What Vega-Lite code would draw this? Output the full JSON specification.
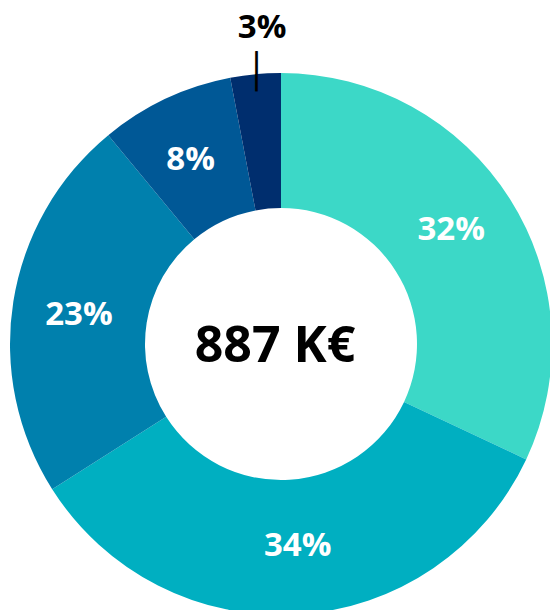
{
  "$schema": "https://vega.github.io/schema/vega-lite/v6.json",
  "autosize": {"type": "none"},
  "width": 538,
  "height": 532,
  "padding": {"left": 12, "top": 78, "right": 0, "bottom": 0},
  "background": "white",
  "config": {"view": {"stroke": null}},
  "datasets": {
    "slices": [
      {"idx": 1, "category": "Segment 1", "value": 32, "label": "32%"},
      {"idx": 2, "category": "Segment 2", "value": 34, "label": "34%"},
      {"idx": 3, "category": "Segment 3", "value": 23, "label": "23%"},
      {"idx": 4, "category": "Segment 4", "value": 8, "label": "8%"},
      {"idx": 5, "category": "Segment 5", "value": 3, "label": "3%"}
    ],
    "total": [{"label": "887 K€"}]
  },
  "resolve": {"scale": {"theta": "independent"}},
  "layer": [
    {
      "data": {"name": "slices"},
      "mark": {"type": "arc", "innerRadius": 136, "outerRadius": 271},
      "encoding": {
        "theta": {"field": "value", "type": "quantitative", "stack": true},
        "order": {"field": "idx", "type": "quantitative"},
        "color": {
          "field": "category",
          "type": "nominal",
          "legend": null,
          "scale": {
            "domain": ["Segment 1", "Segment 2", "Segment 3", "Segment 4", "Segment 5"],
            "range": ["#3CD8C7", "#00AFC1", "#0080AD", "#005896", "#002E6E"]
          }
        }
      }
    },
    {
      "data": {"name": "slices"},
      "mark": {"type": "text", "radius": 204, "font": "Open Sans", "fontWeight": "bold", "fontSize": 33, "fill": "white", "align": "center", "baseline": "middle", "dy": -1},
      "encoding": {
        "theta": {"field": "value", "type": "quantitative", "stack": true, "scale": {"range": [-0.019, 6.264]}},
        "order": {"field": "idx", "type": "quantitative"},
        "detail": {"field": "category"},
        "text": {"condition": {"test": "datum.value >= 5", "field": "label"}, "value": ""}
      }
    },
    {
      "data": {"name": "slices"},
      "mark": {"type": "text", "radius": 317, "dx": 11, "font": "Open Sans", "fontWeight": "bold", "fontSize": 33, "fill": "black", "align": "center", "baseline": "middle"},
      "encoding": {
        "theta": {"field": "value", "type": "quantitative", "stack": true},
        "order": {"field": "idx", "type": "quantitative"},
        "detail": {"field": "category"},
        "text": {"condition": {"test": "datum.value < 5", "field": "label"}, "value": ""}
      }
    },
    {
      "data": {"name": "slices"},
      "mark": {"type": "text", "radius": 272, "dx": 1, "font": "DejaVu Sans", "fontSize": 34, "fill": "black", "align": "center", "baseline": "middle"},
      "encoding": {
        "theta": {"field": "value", "type": "quantitative", "stack": true},
        "order": {"field": "idx", "type": "quantitative"},
        "detail": {"field": "category"},
        "text": {"condition": {"test": "datum.value < 5", "value": "│"}, "value": ""}
      }
    },
    {
      "data": {"name": "total"},
      "mark": {"type": "text", "font": "Open Sans", "fontWeight": "bold", "fontSize": 50, "fill": "black", "align": "center", "baseline": "middle", "dx": -6, "dy": 3},
      "encoding": {
        "text": {"field": "label"}
      }
    }
  ]
}
